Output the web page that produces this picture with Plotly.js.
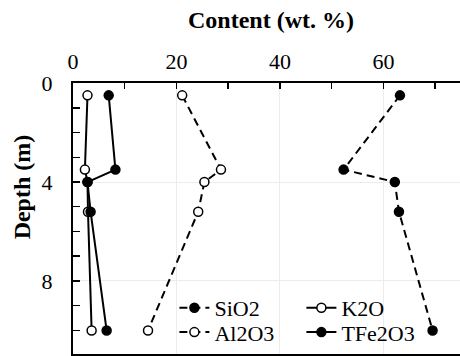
<!DOCTYPE html>
<html><head><meta charset="utf-8">
<script src="https://cdn.plot.ly/plotly-3.0.1.min.js"></script>
<style>html,body{margin:0;padding:0;background:#fff}#chart{width:460px;height:356px}</style>
</head><body><div id="chart"></div>
<script>
const depth = [0.5, 3.5, 4.0, 5.2, 10.0];
const sio2 = [63.2, 52.3, 62.2, 63.0, 69.5];
const k2o = [2.8, 2.3, 2.8, 2.9, 3.6];
const al2o3 = [21.1, 28.6, 25.4, 24.2, 14.5];
const tfe2o3 = [6.9, 8.2, 2.8, 3.4, 6.5];
const xTicks = [0, 20, 40, 60];
const yTicks = [0, 4, 8];

const F = "Times New Roman, Liberation Serif, serif";
const filled = {symbol:'circle', size:9, color:'#000', line:{color:'#000', width:1.5}};
const open = {symbol:'circle', size:9, color:'#fff', line:{color:'#000', width:1.5}};
const dash = '8px,5px';

const traces = [
  {name:'SiO2', x:sio2, y:depth, mode:'lines+markers', line:{color:'#000', width:2, dash:dash}, marker:filled, legend:'legend'},
  {name:'K2O', x:k2o, y:depth, mode:'lines+markers', line:{color:'#000', width:2}, marker:open, legend:'legend'},
  {name:'Al2O3', x:al2o3, y:depth, mode:'lines+markers', line:{color:'#000', width:2, dash:dash}, marker:open, legend:'legend2'},
  {name:'TFe2O3', x:tfe2o3, y:depth, mode:'lines+markers', line:{color:'#000', width:2}, marker:filled, legend:'legend2'}
];

const legendBase = {
  orientation:'h', x:0.262, xanchor:'left', yanchor:'middle',
  bgcolor:'rgba(0,0,0,0)', font:{family:F, size:22, color:'#000'},
  entrywidth:82, entrywidthmode:'pixels', traceorder:'normal', itemwidth:30
};

const layout = {
  width:460, height:356,
  margin:{l:73, r:0, t:83, b:2},
  paper_bgcolor:'#fff', plot_bgcolor:'#fff',
  font:{family:F, size:22, color:'#000'},
  showlegend:true,
  xaxis:{
    side:'top', range:[0, 74.8], tickvals:xTicks, ticktext:xTicks.map(String),
    tickfont:{family:F, size:22, color:'#000'},
    ticks:'inside', ticklen:6, tickwidth:1.5, tickcolor:'#000',
    minor:{dtick:10, tick0:0, ticks:'inside', ticklen:6, tickwidth:1.5, tickcolor:'#000', showgrid:false},
    showline:true, linecolor:'#000', linewidth:2, mirror:true,
    showgrid:true, gridcolor:'#ececec', gridwidth:1, zeroline:false,
    ticklabelstandoff:3
  },
  yaxis:{
    autorange:false, range:[10.95, 0], tickvals:yTicks, ticktext:yTicks.map(String),
    tickfont:{family:F, size:22, color:'#000'},
    ticks:'inside', ticklen:7, tickwidth:1.5, tickcolor:'#000',
    minor:{dtick:1, tick0:0, ticks:'inside', ticklen:7, tickwidth:1.5, tickcolor:'#000', showgrid:false},
    showline:true, linecolor:'#000', linewidth:2, mirror:false,
    showgrid:true, gridcolor:'#ececec', gridwidth:1, zeroline:false,
    ticklabelstandoff:14
  },
  legend:Object.assign({}, legendBase, {y:0.17}),
  legend2:Object.assign({}, legendBase, {y:0.08}),
  annotations:[
    {text:'<b>Content (wt. %)</b>', xref:'paper', yref:'paper', x:0.512, y:1.2325,
     showarrow:false, font:{family:F, size:24, color:'#000'}, xanchor:'center', yanchor:'middle'},
    {text:'<b>Depth (m)</b>', xref:'paper', yref:'paper', x:-0.131, y:0.616,
     textangle:-90, showarrow:false, font:{family:F, size:24, color:'#000'}, xanchor:'center', yanchor:'middle'}
  ]
};
Plotly.newPlot('chart', traces, layout, {displayModeBar:false, staticPlot:true});
</script></body></html>
